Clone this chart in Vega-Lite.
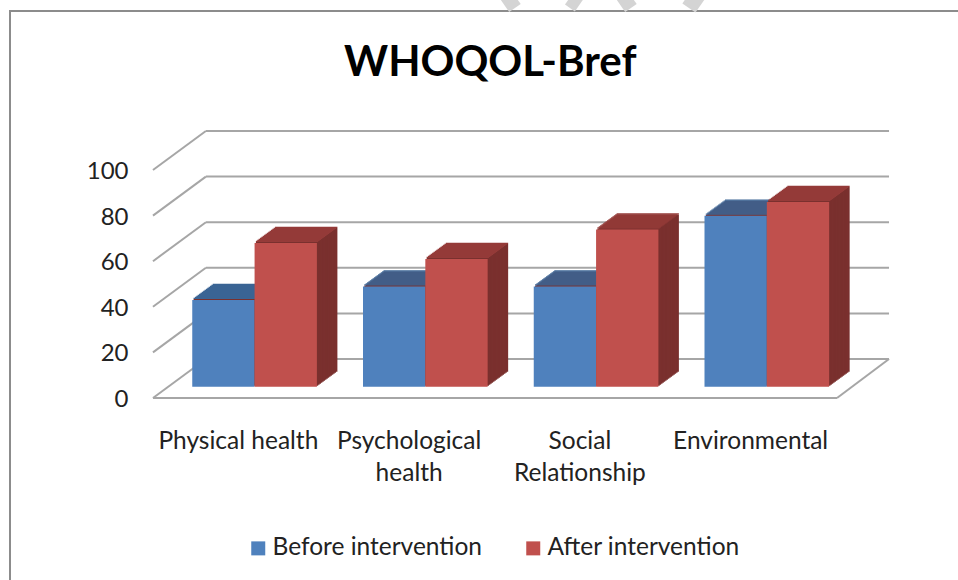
{"$schema":"https://vega.github.io/schema/vega-lite/v6.json","autosize":"none","width":949,"height":570,"padding":{"left":10,"top":11,"right":-1,"bottom":-1},"background":"#ffffff","view":{"stroke":"#8c8c8c","strokeWidth":2,"fill":"#ffffff"},
"title":{"text":"WHOQOL-Bref","font":"Lato","fontWeight":"bold","fontSize":42,"color":"#000000","anchor":"start","dx":334,"offset":-145,"baseline":"bottom"},
"config":{"font":"Lato"},
"layer":[
{"data":{"values":[{"t":0},{"t":20},{"t":40},{"t":60},{"t":80},{"t":100}]},"layer":[
{"mark":{"type":"rule","color":"#a6a6a6","strokeWidth":2,"xOffset":-32.5,"x2Offset":138.4,"yOffset":-39,"y2Offset":-39},"encoding":{"x":{"datum":"Physical health","type":"nominal"},"x2":{"datum":"Environmental"},"y":{"field":"t","type":"quantitative"},"y2":{"field":"t"}}},
{"mark":{"type":"rule","color":"#a6a6a6","strokeWidth":2,"xOffset":-85.4,"x2Offset":-32.5,"y2Offset":-39},"encoding":{"x":{"datum":"Physical health","type":"nominal"},"x2":{"datum":"Physical health"},"y":{"field":"t","type":"quantitative"},"y2":{"field":"t"}}}
]},
{"data":{"values":[{"t":0}]},"layer":[
{"mark":{"type":"rule","color":"#a6a6a6","strokeWidth":2,"xOffset":-85.4,"x2Offset":86.4},"encoding":{"x":{"datum":"Physical health","type":"nominal"},"x2":{"datum":"Environmental"},"y":{"field":"t","type":"quantitative"}}},
{"mark":{"type":"rule","color":"#a6a6a6","strokeWidth":2,"xOffset":86.4,"x2Offset":138.4,"y2Offset":-39},"encoding":{"x":{"datum":"Environmental","type":"nominal"},"x2":{"datum":"Environmental"},"y":{"field":"t","type":"quantitative"},"y2":{"field":"t"}}}
]},
{"data":{"values":[{"t":100}]},"layer":[
{"mark":{"type":"rule","color":"#d4d4d4","strokeWidth":14,"xOffset":93.3,"x2Offset":105.8,"yOffset":-180,"y2Offset":-162},"encoding":{"x":{"datum":"Psychological health","type":"nominal"},"x2":{"datum":"Psychological health"},"y":{"field":"t","type":"quantitative"},"y2":{"field":"t"}}},
{"mark":{"type":"rule","color":"#d4d4d4","strokeWidth":12,"xOffset":173.3,"x2Offset":160.8,"yOffset":-180,"y2Offset":-162},"encoding":{"x":{"datum":"Psychological health","type":"nominal"},"x2":{"datum":"Psychological health"},"y":{"field":"t","type":"quantitative"},"y2":{"field":"t"}}},
{"mark":{"type":"rule","color":"#d4d4d4","strokeWidth":14,"xOffset":209.3,"x2Offset":221.8,"yOffset":-180,"y2Offset":-162},"encoding":{"x":{"datum":"Psychological health","type":"nominal"},"x2":{"datum":"Psychological health"},"y":{"field":"t","type":"quantitative"},"y2":{"field":"t"}}},
{"mark":{"type":"rule","color":"#d4d4d4","strokeWidth":16,"xOffset":292.3,"x2Offset":279.8,"yOffset":-180,"y2Offset":-162},"encoding":{"x":{"datum":"Psychological health","type":"nominal"},"x2":{"datum":"Psychological health"},"y":{"field":"t","type":"quantitative"},"y2":{"field":"t"}}}
]},
{"data":{"values":[
{"domain":"Physical health","series":"Before intervention","value":38},
{"domain":"Physical health","series":"After intervention","value":63},
{"domain":"Psychological health","series":"Before intervention","value":44},
{"domain":"Psychological health","series":"After intervention","value":56},
{"domain":"Social Relationship","series":"Before intervention","value":44},
{"domain":"Social Relationship","series":"After intervention","value":69},
{"domain":"Environmental","series":"Before intervention","value":75},
{"domain":"Environmental","series":"After intervention","value":81}
]},
"resolve":{"scale":{"xOffset":"independent"}},
"encoding":{
"x":{"field":"domain","type":"nominal","title":null,"sort":null,"scale":{"domain":["Physical health","Psychological health","Social Relationship","Environmental"],"range":[143,826],"paddingInner":0.27,"paddingOuter":0.135},"axis":{"orient":"bottom","offset":-152,"ticks":false,"domain":false,"grid":false,"labelAngle":0,"labelAlign":"center","labelPadding":0,"labelFontSize":24.5,"labelColor":"#222222","labelBaseline":"top","labelLineHeight":32,"labelLimit":300,"labelExpr":"datum.value == 'Psychological health' ? ['Psychological','health'] : datum.value == 'Social Relationship' ? ['Social','Relationship'] : datum.label"}},
"y":{"field":"value","type":"quantitative","stack":null,"title":null,"scale":{"domain":[0,100],"range":[387,159],"nice":false,"zero":true},"axis":{"orient":"left","offset":-118,"values":[0,20,40,60,80,100],"ticks":false,"domain":false,"grid":false,"labelPadding":0,"labelFontSize":24,"labelColor":"#222222","labelOffset":1.5}},
"color":{"condition":{"test":"datum.series === 'Before intervention'","value":"#3b6594"},"value":"#953b39"}
},
"layer":[
{"mark":{"type":"bar","yOffset":-26.3,"y2Offset":-26.3},"encoding":{"y2":{"datum":0},"color":{"value":"#7a302e"},"xOffset":{"field":"series","type":"nominal","sort":null,"scale":{"domain":["Before intervention","After intervention"],"range":[36.7,161.35],"paddingInner":0,"paddingOuter":0}}}},
{"mark":{"type":"bar","yOffset":-27.5,"y2Offset":-26.3},"encoding":{"y2":{"field":"value"},"xOffset":{"field":"series","type":"nominal","sort":null,"scale":{"domain":["Before intervention","After intervention"],"range":[36.7,161.35],"paddingInner":0,"paddingOuter":0}}}},
{"mark":{"type":"bar","yOffset":-25.3,"y2Offset":-25.3},"encoding":{"y2":{"datum":0},"color":{"value":"#7a302e"},"xOffset":{"field":"series","type":"nominal","sort":null,"scale":{"domain":["Before intervention","After intervention"],"range":[35.33,159.98],"paddingInner":0,"paddingOuter":0}}}},
{"mark":{"type":"bar","yOffset":-26.5,"y2Offset":-25.3},"encoding":{"y2":{"field":"value"},"xOffset":{"field":"series","type":"nominal","sort":null,"scale":{"domain":["Before intervention","After intervention"],"range":[35.33,159.98],"paddingInner":0,"paddingOuter":0}}}},
{"mark":{"type":"bar","yOffset":-24.3,"y2Offset":-24.3},"encoding":{"y2":{"datum":0},"color":{"value":"#7a302e"},"xOffset":{"field":"series","type":"nominal","sort":null,"scale":{"domain":["Before intervention","After intervention"],"range":[33.96,158.61],"paddingInner":0,"paddingOuter":0}}}},
{"mark":{"type":"bar","yOffset":-25.5,"y2Offset":-24.3},"encoding":{"y2":{"field":"value"},"xOffset":{"field":"series","type":"nominal","sort":null,"scale":{"domain":["Before intervention","After intervention"],"range":[33.96,158.61],"paddingInner":0,"paddingOuter":0}}}},
{"mark":{"type":"bar","yOffset":-23.3,"y2Offset":-23.3},"encoding":{"y2":{"datum":0},"color":{"value":"#7a302e"},"xOffset":{"field":"series","type":"nominal","sort":null,"scale":{"domain":["Before intervention","After intervention"],"range":[32.59,157.24],"paddingInner":0,"paddingOuter":0}}}},
{"mark":{"type":"bar","yOffset":-24.5,"y2Offset":-23.3},"encoding":{"y2":{"field":"value"},"xOffset":{"field":"series","type":"nominal","sort":null,"scale":{"domain":["Before intervention","After intervention"],"range":[32.59,157.24],"paddingInner":0,"paddingOuter":0}}}},
{"mark":{"type":"bar","yOffset":-22.3,"y2Offset":-22.3},"encoding":{"y2":{"datum":0},"color":{"value":"#7a302e"},"xOffset":{"field":"series","type":"nominal","sort":null,"scale":{"domain":["Before intervention","After intervention"],"range":[31.22,155.87],"paddingInner":0,"paddingOuter":0}}}},
{"mark":{"type":"bar","yOffset":-23.5,"y2Offset":-22.3},"encoding":{"y2":{"field":"value"},"xOffset":{"field":"series","type":"nominal","sort":null,"scale":{"domain":["Before intervention","After intervention"],"range":[31.22,155.87],"paddingInner":0,"paddingOuter":0}}}},
{"mark":{"type":"bar","yOffset":-21.3,"y2Offset":-21.3},"encoding":{"y2":{"datum":0},"color":{"value":"#7a302e"},"xOffset":{"field":"series","type":"nominal","sort":null,"scale":{"domain":["Before intervention","After intervention"],"range":[29.85,154.5],"paddingInner":0,"paddingOuter":0}}}},
{"mark":{"type":"bar","yOffset":-22.5,"y2Offset":-21.3},"encoding":{"y2":{"field":"value"},"xOffset":{"field":"series","type":"nominal","sort":null,"scale":{"domain":["Before intervention","After intervention"],"range":[29.85,154.5],"paddingInner":0,"paddingOuter":0}}}},
{"mark":{"type":"bar","yOffset":-20.3,"y2Offset":-20.3},"encoding":{"y2":{"datum":0},"color":{"value":"#7a302e"},"xOffset":{"field":"series","type":"nominal","sort":null,"scale":{"domain":["Before intervention","After intervention"],"range":[28.48,153.13],"paddingInner":0,"paddingOuter":0}}}},
{"mark":{"type":"bar","yOffset":-21.5,"y2Offset":-20.3},"encoding":{"y2":{"field":"value"},"xOffset":{"field":"series","type":"nominal","sort":null,"scale":{"domain":["Before intervention","After intervention"],"range":[28.48,153.13],"paddingInner":0,"paddingOuter":0}}}},
{"mark":{"type":"bar","yOffset":-19.3,"y2Offset":-19.3},"encoding":{"y2":{"datum":0},"color":{"value":"#7a302e"},"xOffset":{"field":"series","type":"nominal","sort":null,"scale":{"domain":["Before intervention","After intervention"],"range":[27.11,151.76],"paddingInner":0,"paddingOuter":0}}}},
{"mark":{"type":"bar","yOffset":-20.5,"y2Offset":-19.3},"encoding":{"y2":{"field":"value"},"xOffset":{"field":"series","type":"nominal","sort":null,"scale":{"domain":["Before intervention","After intervention"],"range":[27.11,151.76],"paddingInner":0,"paddingOuter":0}}}},
{"mark":{"type":"bar","yOffset":-18.3,"y2Offset":-18.3},"encoding":{"y2":{"datum":0},"color":{"value":"#7a302e"},"xOffset":{"field":"series","type":"nominal","sort":null,"scale":{"domain":["Before intervention","After intervention"],"range":[25.74,150.39],"paddingInner":0,"paddingOuter":0}}}},
{"mark":{"type":"bar","yOffset":-19.5,"y2Offset":-18.3},"encoding":{"y2":{"field":"value"},"xOffset":{"field":"series","type":"nominal","sort":null,"scale":{"domain":["Before intervention","After intervention"],"range":[25.74,150.39],"paddingInner":0,"paddingOuter":0}}}},
{"mark":{"type":"bar","yOffset":-17.3,"y2Offset":-17.3},"encoding":{"y2":{"datum":0},"color":{"value":"#7a302e"},"xOffset":{"field":"series","type":"nominal","sort":null,"scale":{"domain":["Before intervention","After intervention"],"range":[24.37,149.02],"paddingInner":0,"paddingOuter":0}}}},
{"mark":{"type":"bar","yOffset":-18.5,"y2Offset":-17.3},"encoding":{"y2":{"field":"value"},"xOffset":{"field":"series","type":"nominal","sort":null,"scale":{"domain":["Before intervention","After intervention"],"range":[24.37,149.02],"paddingInner":0,"paddingOuter":0}}}},
{"mark":{"type":"bar","yOffset":-16.3,"y2Offset":-16.3},"encoding":{"y2":{"datum":0},"color":{"value":"#7a302e"},"xOffset":{"field":"series","type":"nominal","sort":null,"scale":{"domain":["Before intervention","After intervention"],"range":[23,147.65],"paddingInner":0,"paddingOuter":0}}}},
{"mark":{"type":"bar","yOffset":-17.5,"y2Offset":-16.3},"encoding":{"y2":{"field":"value"},"xOffset":{"field":"series","type":"nominal","sort":null,"scale":{"domain":["Before intervention","After intervention"],"range":[23,147.65],"paddingInner":0,"paddingOuter":0}}}},
{"mark":{"type":"bar","yOffset":-15.3,"y2Offset":-15.3},"encoding":{"y2":{"datum":0},"color":{"value":"#7a302e"},"xOffset":{"field":"series","type":"nominal","sort":null,"scale":{"domain":["Before intervention","After intervention"],"range":[21.63,146.28],"paddingInner":0,"paddingOuter":0}}}},
{"mark":{"type":"bar","yOffset":-16.5,"y2Offset":-15.3},"encoding":{"y2":{"field":"value"},"xOffset":{"field":"series","type":"nominal","sort":null,"scale":{"domain":["Before intervention","After intervention"],"range":[21.63,146.28],"paddingInner":0,"paddingOuter":0}}}},
{"mark":{"type":"bar","yOffset":-14.3,"y2Offset":-14.3},"encoding":{"y2":{"datum":0},"color":{"value":"#7a302e"},"xOffset":{"field":"series","type":"nominal","sort":null,"scale":{"domain":["Before intervention","After intervention"],"range":[20.26,144.91],"paddingInner":0,"paddingOuter":0}}}},
{"mark":{"type":"bar","yOffset":-15.5,"y2Offset":-14.3},"encoding":{"y2":{"field":"value"},"xOffset":{"field":"series","type":"nominal","sort":null,"scale":{"domain":["Before intervention","After intervention"],"range":[20.26,144.91],"paddingInner":0,"paddingOuter":0}}}},
{"mark":{"type":"bar","yOffset":-13.3,"y2Offset":-13.3},"encoding":{"y2":{"datum":0},"color":{"value":"#7a302e"},"xOffset":{"field":"series","type":"nominal","sort":null,"scale":{"domain":["Before intervention","After intervention"],"range":[18.89,143.54],"paddingInner":0,"paddingOuter":0}}}},
{"mark":{"type":"bar","yOffset":-14.5,"y2Offset":-13.3},"encoding":{"y2":{"field":"value"},"xOffset":{"field":"series","type":"nominal","sort":null,"scale":{"domain":["Before intervention","After intervention"],"range":[18.89,143.54],"paddingInner":0,"paddingOuter":0}}}},
{"mark":{"type":"bar","yOffset":-12.3,"y2Offset":-12.3},"encoding":{"y2":{"datum":0},"color":{"value":"#7a302e"},"xOffset":{"field":"series","type":"nominal","sort":null,"scale":{"domain":["Before intervention","After intervention"],"range":[17.52,142.17],"paddingInner":0,"paddingOuter":0}}}},
{"mark":{"type":"bar","yOffset":-13.5,"y2Offset":-12.3},"encoding":{"y2":{"field":"value"},"xOffset":{"field":"series","type":"nominal","sort":null,"scale":{"domain":["Before intervention","After intervention"],"range":[17.52,142.17],"paddingInner":0,"paddingOuter":0}}}},
{"mark":{"type":"bar","yOffset":-11.3,"y2Offset":-11.3},"encoding":{"y2":{"datum":0},"xOffset":{"field":"series","type":"nominal","sort":null,"scale":{"domain":["Before intervention","After intervention"],"range":[16.2,140.85],"paddingInner":0,"paddingOuter":0}},"color":{"condition":{"test":"datum.series === 'Before intervention'","value":"#4f81bd"},"field":"series","type":"nominal","sort":null,"scale":{"domain":["Before intervention","After intervention"],"range":["#4f81bd","#c0504d"]},"legend":{"orient":"none","legendX":236,"legendY":525,"direction":"horizontal","columns":2,"title":null,"symbolType":"square","symbolSize":196,"symbolStrokeWidth":0,"labelFontSize":24.5,"labelColor":"#222222","columnPadding":38,"labelOffset":2,"labelLimit":300}}}}
]}
]}
